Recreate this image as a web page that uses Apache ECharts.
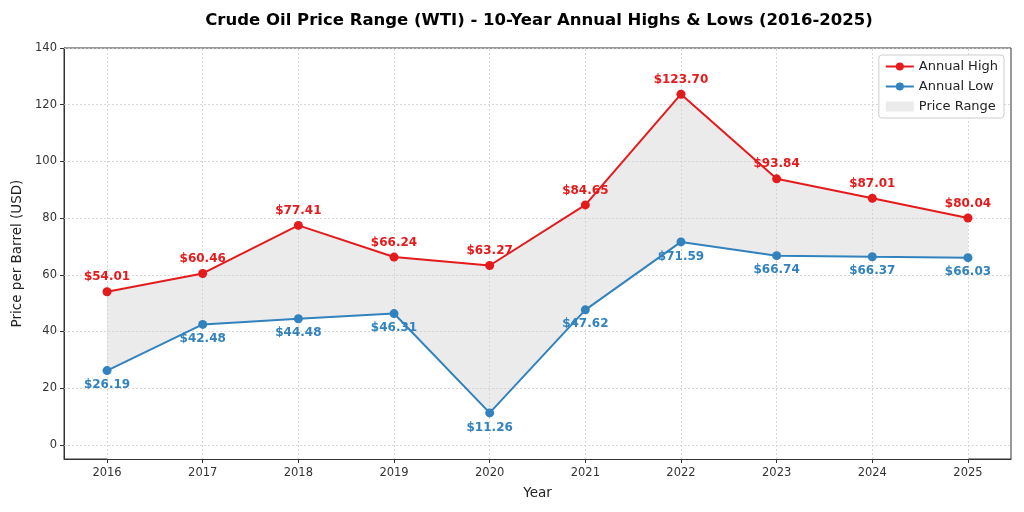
<!DOCTYPE html>
<html>
<head>
<meta charset="utf-8">
<script src="https://cdn.jsdelivr.net/npm/echarts@6/dist/echarts.min.js"></script>
<style>
  html, body { margin: 0; padding: 0; background: #fff; }
  #chart { width: 1024px; height: 512px; }
</style>
</head>
<body>
<div id="chart"></div>
<script>
// data
const years = [2016, 2017, 2018, 2019, 2020, 2021, 2022, 2023, 2024, 2025];
const highs = [54.01, 60.46, 77.41, 66.24, 63.27, 84.65, 123.70, 93.84, 87.01, 80.04];
const lows = [26.19, 42.48, 44.48, 46.31, 11.26, 47.62, 71.59, 66.74, 66.37, 66.03];
const yTicks = [0, 20, 40, 60, 80, 100, 120, 140];

const RED = '#e41a1c';
const BLUE = '#3182bd';
const FILL = '#ebebeb';
const FONT = 'DejaVu Sans';

const chart = echarts.init(document.getElementById('chart'));

const highData = years.map((y, i) => [y, highs[i]]);
const lowData = years.map((y, i) => [y, lows[i]]);

// dotted grid lines as mark lines
const gridLines = years.map(y => ({ xAxis: y })).concat(yTicks.map(v => ({ yAxis: v })));

chart.setOption({
  animation: false,
  textStyle: { fontFamily: FONT },
  title: {
    text: 'Crude Oil Price Range (WTI) - 10-Year Annual Highs & Lows (2016-2025)',
    left: 534, top: 7, textAlign: 'center',
    textStyle: { fontSize: 16.5, fontWeight: 'bold', color: '#000', fontFamily: FONT }
  },
  legend: {
    right: 20, top: 55, orient: 'vertical',
    itemWidth: 28, itemHeight: 10, itemGap: 7,
    padding: [5, 6, 5, 6],
    borderColor: '#ccc', borderWidth: 1, borderRadius: 3,
    backgroundColor: 'rgba(255,255,255,0.9)',
    textStyle: { fontSize: 13, color: '#222', fontFamily: FONT },
    data: [
      { name: 'Annual High' },
      { name: 'Annual Low' },
      { name: 'Price Range', icon: 'rect' }
    ]
  },
  grid: {
    left: 64, right: 13, top: 48, bottom: 53,
    show: true, borderColor: '#333', borderWidth: 1
  },
  xAxis: {
    type: 'value', min: 2015.55, max: 2025.45,
    name: 'Year', nameLocation: 'middle', nameGap: 27,
    nameTextStyle: { fontSize: 13.5, color: '#222', fontFamily: FONT },
    axisLine: { show: true, onZero: false, lineStyle: { color: '#333' } },
    axisTick: { show: true, length: 4, customValues: years, lineStyle: { color: '#333' } },
    axisLabel: { customValues: years, fontSize: 11.5, color: '#333', margin: 8, formatter: v => String(v) },
    splitLine: { show: false }
  },
  yAxis: {
    type: 'value', min: -5, max: 140,
    name: 'Price per Barrel (USD)', nameLocation: 'middle', nameGap: 35,
    nameTextStyle: { fontSize: 13.5, color: '#222', fontFamily: FONT },
    axisLine: { show: true, onZero: false, lineStyle: { color: '#333' } },
    axisTick: { show: true, length: 4, customValues: yTicks, lineStyle: { color: '#333' } },
    axisLabel: { customValues: yTicks, fontSize: 11.5, color: '#333', margin: 7 },
    splitLine: { show: false }
  },
  series: [
    // grey band: fill under the highs, then blank out everything under the lows
    {
      name: 'Price Range', type: 'line', data: highData,
      symbol: 'none', lineStyle: { opacity: 0 }, silent: true, z: 1,
      itemStyle: { color: FILL },
      areaStyle: { color: FILL, opacity: 1, origin: 'start' }
    },
    {
      name: 'cover', type: 'line', data: lowData,
      symbol: 'none', lineStyle: { opacity: 0 }, silent: true, z: 1,
      itemStyle: { color: '#fff' },
      areaStyle: { color: '#fff', opacity: 1, origin: 'start' },
      markLine: {
        silent: true, symbol: 'none', label: { show: false }, z: 2,
        lineStyle: { type: [2, 2], color: '#cfcfcf', width: 0.8 },
        data: gridLines
      }
    },
    {
      name: 'Annual High', type: 'line', data: highData,
      symbol: 'circle', symbolSize: 9, z: 3,
      lineStyle: { color: RED, width: 2 }, itemStyle: { color: RED, borderWidth: 0 },
      label: {
        show: true, position: 'top', distance: 4, color: RED,
        fontWeight: 'bold', fontSize: 12, fontFamily: FONT,
        formatter: p => '$' + p.value[1].toFixed(2)
      }
    },
    {
      name: 'Annual Low', type: 'line', data: lowData,
      symbol: 'circle', symbolSize: 9, z: 3,
      lineStyle: { color: BLUE, width: 2 }, itemStyle: { color: BLUE, borderWidth: 0 },
      label: {
        show: true, position: 'bottom', distance: 4, color: BLUE,
        fontWeight: 'bold', fontSize: 12, fontFamily: FONT,
        formatter: p => '$' + p.value[1].toFixed(2)
      }
    }
  ]
});
</script>
</body>
</html>
